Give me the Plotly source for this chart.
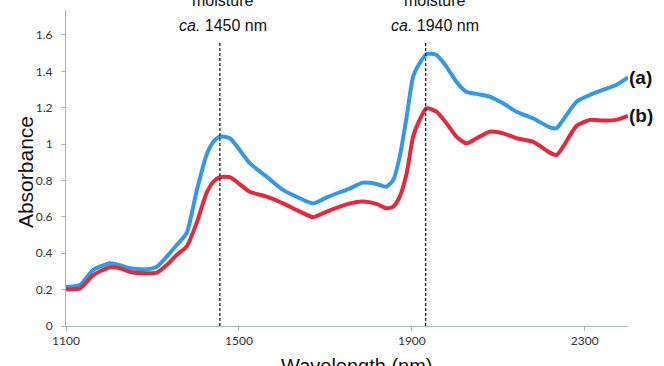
import plotly.graph_objects as go

# Wavelength (nm)
wavelength = [1100, 1132, 1163, 1202, 1225, 1248, 1287, 1310, 1333, 1356, 1379, 1402, 1425, 1441,
              1456, 1479, 1525, 1564, 1602, 1641, 1672, 1703, 1757, 1787, 1818, 1841, 1857, 1872,
              1888, 1903, 1918, 1934, 1957, 1980, 2003, 2026, 2050, 2080, 2111, 2142, 2180, 2219,
              2235, 2250, 2281, 2312, 2342, 2373, 2400]

absorbance_a = [0.214, 0.225, 0.308, 0.345, 0.334, 0.317, 0.312, 0.326, 0.381, 0.445, 0.51, 0.74, 0.94, 1.013,
                1.041, 1.032, 0.895, 0.821, 0.748, 0.702, 0.674, 0.707, 0.757, 0.788, 0.781, 0.766, 0.803, 0.931,
                1.151, 1.371, 1.444, 1.495, 1.49, 1.426, 1.343, 1.288, 1.276, 1.261, 1.224, 1.178, 1.142, 1.092,
                1.087, 1.133, 1.233, 1.27, 1.298, 1.325, 1.367]

absorbance_b = [0.202, 0.207, 0.28, 0.323, 0.317, 0.297, 0.29, 0.293, 0.335, 0.39, 0.436, 0.565, 0.73, 0.793,
                0.818, 0.818, 0.738, 0.711, 0.674, 0.629, 0.598, 0.629, 0.674, 0.684, 0.671, 0.647, 0.656, 0.711,
                0.84, 1.041, 1.133, 1.197, 1.178, 1.114, 1.041, 1.004, 1.032, 1.068, 1.059, 1.032, 1.013, 0.953,
                0.94, 0.986, 1.1, 1.133, 1.129, 1.133, 1.155]

series_labels = ["(a)", "(b)"]

moisture_bands = [1456, 1932]
moisture_labels = ["<i>ca.</i> 1450 nm", "<i>ca.</i> 1940 nm"]
moisture_word = "moisture"
moisture_top = 1.56

x_ticks = [1100, 1500, 1900, 2300]
y_ticks = [0, 0.2, 0.4, 0.6, 0.8, 1.0, 1.2, 1.4, 1.6]

fig = go.Figure()
fig.add_trace(go.Scatter(x=wavelength, y=absorbance_a, mode="lines",
                         line=dict(color="#3399e6", width=4, shape="spline", smoothing=0.6),
                         showlegend=False))
fig.add_trace(go.Scatter(x=wavelength, y=absorbance_b, mode="lines",
                         line=dict(color="#e5283c", width=4, shape="spline", smoothing=0.6),
                         showlegend=False))

for xb in moisture_bands:
    fig.add_shape(type="line", x0=xb, x1=xb, y0=0, y1=moisture_top, xref="x", yref="y",
                  line=dict(color="#111111", width=1.2, dash="3px,2px"))

shifts = [3, 9]
for xb, lab, sh in zip(moisture_bands, moisture_labels, shifts):
    fig.add_annotation(x=xb, y=0.9525, xref="x", yref="paper", text=lab, showarrow=False,
                       xanchor="center", yanchor="middle", xshift=sh,
                       font=dict(family="Liberation Sans, Arial", size=16, color="#111111"))
    fig.add_annotation(x=xb, y=1.03, xref="x", yref="paper", text=moisture_word, showarrow=False,
                       xanchor="center", yanchor="middle", xshift=sh,
                       font=dict(family="Liberation Sans, Arial", size=16, color="#111111"))

# series labels at line ends
for lab, series in zip(series_labels, [absorbance_a, absorbance_b]):
    fig.add_annotation(x=wavelength[-1], y=series[-1], xref="x", yref="y", text="<b>" + lab + "</b>",
                       showarrow=False, xanchor="left", yanchor="middle", xshift=-1,
                       font=dict(family="Liberation Sans, Arial", size=19, color="#111111"))

fig.add_annotation(x=0.518, y=-0.085, xref="paper", yref="paper", text="Wavelength (nm)",
                   showarrow=False, xanchor="center", yanchor="top",
                   font=dict(family="Liberation Sans, Arial", size=20, color="#111111"))
fig.add_annotation(x=-0.073, y=0.487, xref="paper", yref="paper", text="Absorbance",
                   showarrow=False, textangle=-90, xanchor="center", yanchor="middle",
                   font=dict(family="Liberation Sans, Arial", size=21, color="#111111"))

axis_color = "#a6b9c1"
fig.update_xaxes(range=[1100, 2400], tickvals=x_ticks, ticks="outside", ticklen=4, tickcolor=axis_color,
                 showline=True, linecolor=axis_color, linewidth=1, showgrid=False, zeroline=False,
                 tickfont=dict(family="Lato", size=12, color="#333333"))
fig.update_yaxes(range=[0, 1.737], tickvals=y_ticks, ticks="outside", ticklen=4, tickcolor=axis_color,
                 showline=True, linecolor=axis_color, linewidth=1, showgrid=False, zeroline=False,
                 ticklabelstandoff=6,
                 tickfont=dict(family="Lato", size=12, color="#333333"))

fig.update_layout(width=664, height=366, margin=dict(l=66, r=36, t=10, b=40),
                  plot_bgcolor="white", paper_bgcolor="white")

fig.write_html("out.html", config={"displayModeBar": False},
               post_script="document.body.style.margin='0';document.body.style.overflow='hidden';")
